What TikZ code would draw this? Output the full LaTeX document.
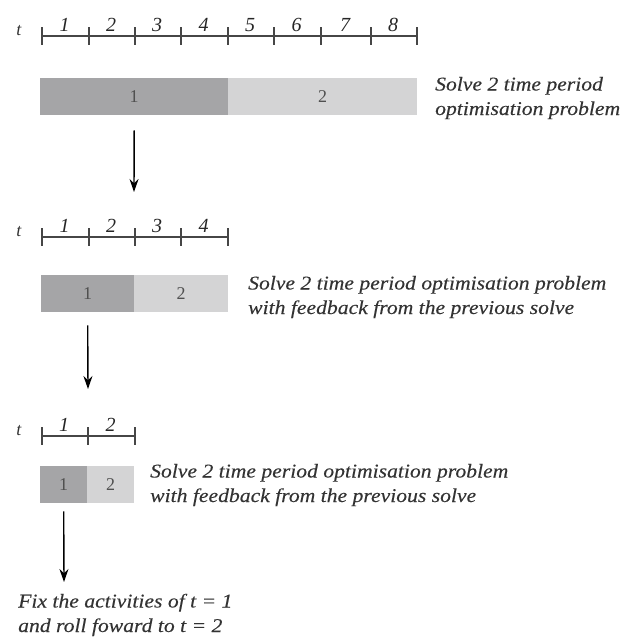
\documentclass[tikz,border=0pt]{standalone}
\usepackage{fontspec}
\setmainfont{Liberation Serif}
\newfontfamily\notefont[FakeStretch=1.11,FakeBold=0.25]{Liberation Serif}
\usetikzlibrary{arrows.meta}
\definecolor{cellDark}{RGB}{165,165,167}
\definecolor{cellLight}{RGB}{212,212,213}
\definecolor{axisGrey}{RGB}{70,70,70}
\definecolor{numGrey}{RGB}{80,80,80}
\tikzset{
  axisline/.style={draw=axisGrey, line width=1.1pt},
  ticklab/.style={font=\itshape\fontsize{20}{20}\selectfont, text=black!85, inner sep=0pt, anchor=base},
  tlab/.style={font=\itshape\fontsize{18}{18}\selectfont, text=black!80, inner sep=0pt, anchor=base},
  cell/.style={draw=none, minimum height=37pt, inner sep=0pt, anchor=north west,
               font=\fontsize{18}{18}\selectfont, text=numGrey},
  darkcell/.style={cell, fill=cellDark},
  lightcell/.style={cell, fill=cellLight},
  % multi-line notes are placed by the baseline of their last line
  note/.style={font=\notefont\itshape\fontsize{19.5}{24.5}\selectfont, text=black!80, align=left,
               anchor=base west, inner sep=0pt},
  flow/.style={draw=black, line width=1.4pt, -{Stealth[length=13pt,width=9pt]}}
}
\begin{document}
\begin{tikzpicture}[x=1pt,y=-1pt]
\useasboundingbox (0,0) rectangle (624,637);

% --- eight-period horizon ---
\node[tlab] (t1) at (19,35) {t};
\draw[axisline] (42,36) -- (417,36);
\foreach \x in {42,89,135,181,228,274,321,371,417}
  \draw[axisline] (\x,27) -- (\x,45);
\foreach \a/\b [count=\i] in {42/89,89/135,135/181,181/228,228/274,274/321,321/371,371/417}
  \node[ticklab] (pa\i) at ({(\a+\b)/2-1},31) {\i};

\node[darkcell, minimum width=188pt] (d1) at (40,78) {1};
\node[lightcell, minimum width=189pt] (l1) at (228,78) {2};
\node[note] (n1) at (435,115) {Solve 2 time period\\optimisation problem};

\coordinate (e1) at (134,192);
\draw[flow] ([yshift=-15pt]d1.south) -- (e1);

% --- four-period horizon ---
\node[tlab] (t2) at (19,236) {t};
\draw[axisline] (42,237) -- (228,237);
\foreach \x in {42,89,135,181,228}
  \draw[axisline] (\x,228) -- (\x,246);
\foreach \a/\b [count=\i] in {42/89,89/135,135/181,181/228}
  \node[ticklab] (pb\i) at ({(\a+\b)/2-1},232) {\i};

\node[darkcell, minimum width=93pt] (d2) at (41,275) {1};
\node[lightcell, minimum width=94pt] (l2) at (134,275) {2};
\node[note] (n2) at (248,314) {Solve 2 time period optimisation problem\\with feedback from the previous solve};

\coordinate (e2) at (88,389);
\draw[flow] ([yshift=-13pt]d2.south) -- (e2);

% --- two-period horizon ---
\node[tlab] (t3) at (19,435) {t};
\draw[axisline] (42,436) -- (135,436);
\foreach \x in {42,88,135}
  \draw[axisline] (\x,427) -- (\x,445);
\foreach \a/\b [count=\i] in {42/88,88/135}
  \node[ticklab] (pc\i) at ({(\a+\b)/2-1},431) {\i};

\node[darkcell, minimum width=47pt] (d3) at (40,466) {1};
\node[lightcell, minimum width=47pt] (l3) at (87,466) {2};
\node[note] (n3) at (150,502) {Solve 2 time period optimisation problem\\with feedback from the previous solve};

\coordinate (e3) at (64,582);
\draw[flow] ([yshift=-8pt]d3.south) -- (e3);

\node[note] (fix) at (18,632) {Fix the activities of t = 1\\and roll foward to t = 2};
\end{tikzpicture}
\end{document}
